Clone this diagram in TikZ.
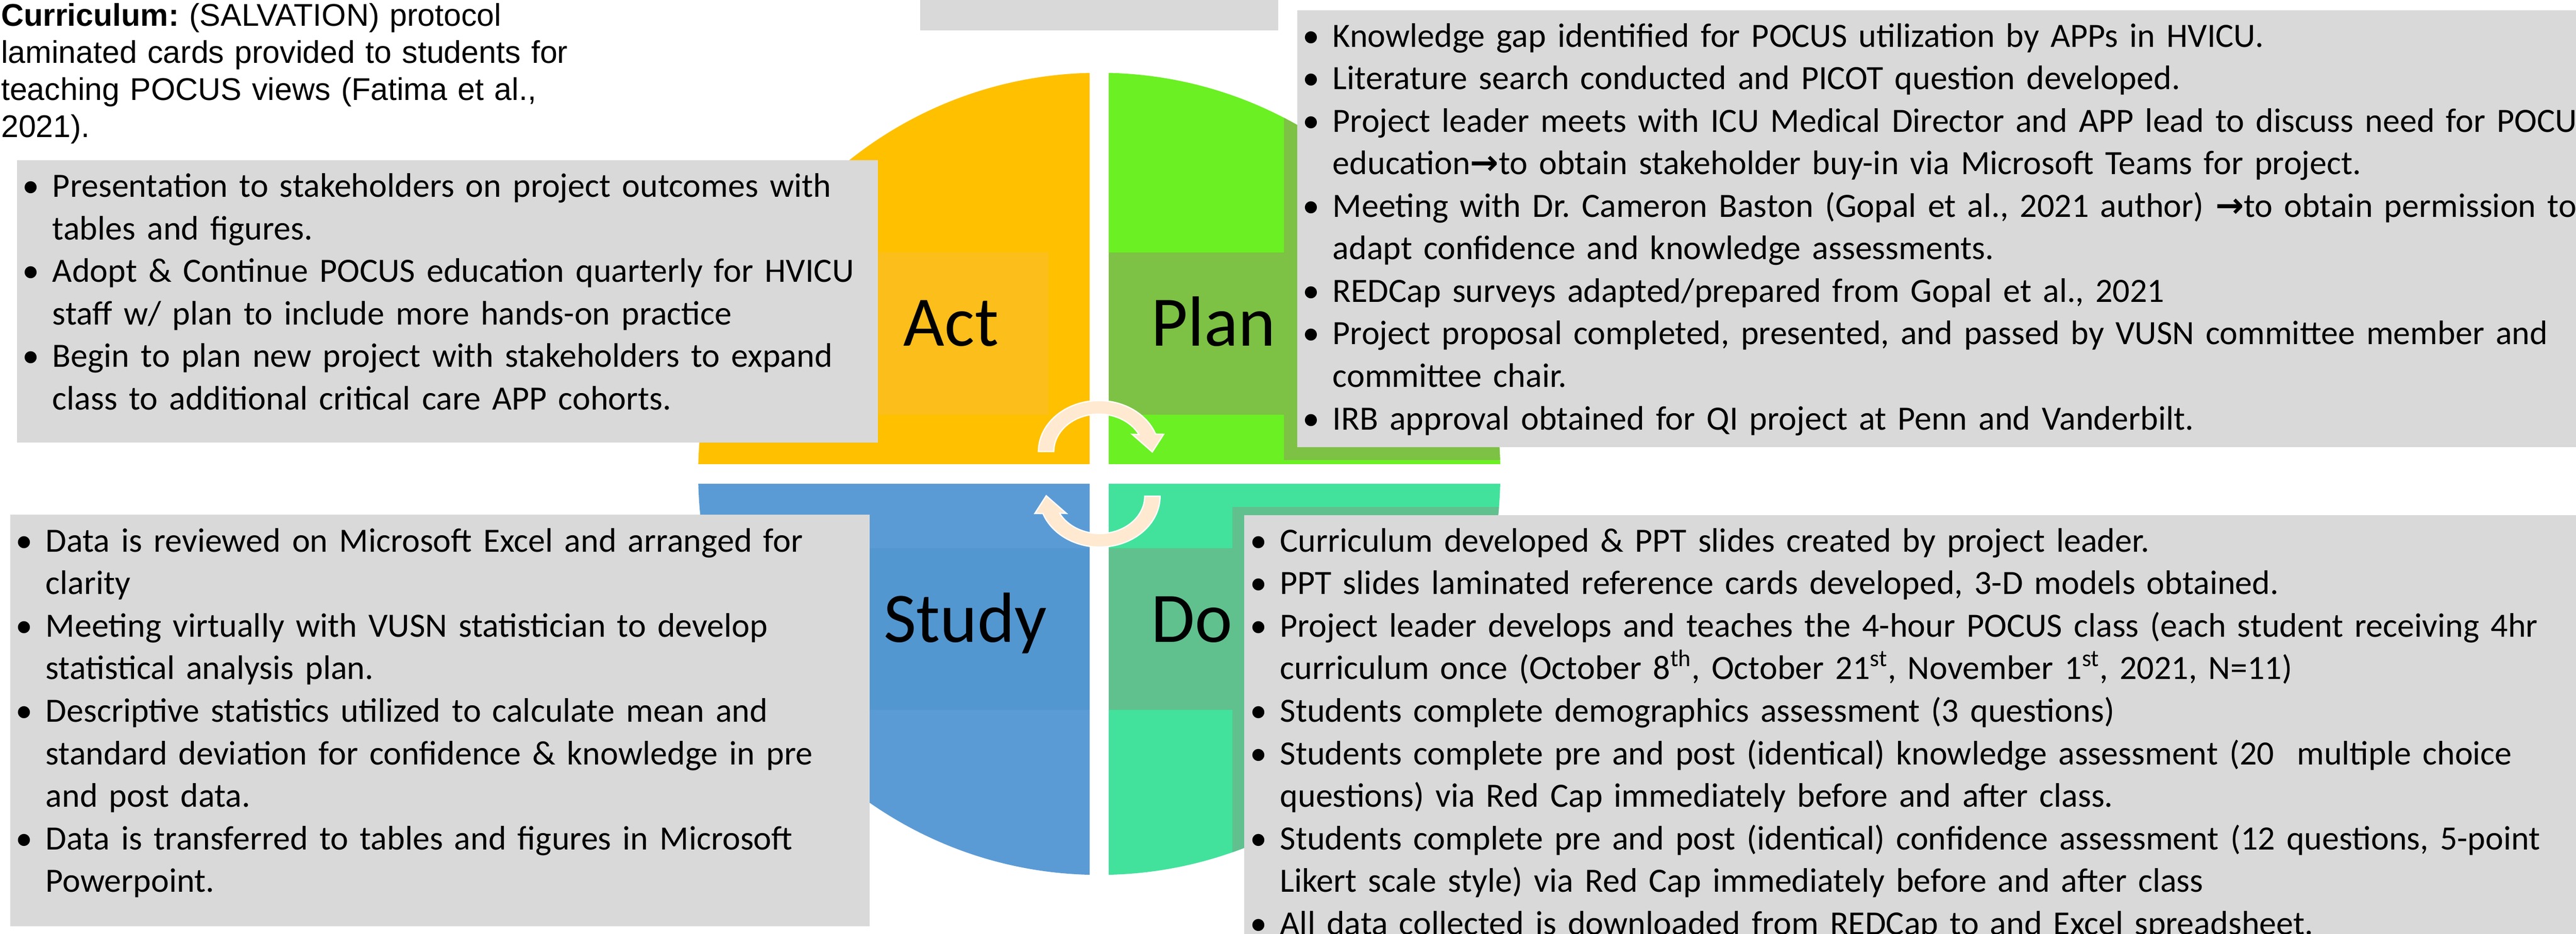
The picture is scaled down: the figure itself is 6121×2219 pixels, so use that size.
\documentclass[tikz,border=0pt]{standalone}
\usepackage{fontspec}
\setmainfont{Carlito}
\newfontfamily\arialfont{Liberation Sans}
\newfontfamily\symfont{DejaVu Sans}
\usepackage{tikz}
\usetikzlibrary{positioning}
\definecolor{actorange}{HTML}{FFC000}
\definecolor{plangreen}{HTML}{6AF023}
\definecolor{studyblue}{HTML}{5B9BD5}
\definecolor{doteal}{HTML}{42E29C}
\definecolor{actshade}{HTML}{FBBE1B}
\definecolor{planshade}{HTML}{7DC244}
\definecolor{studyshade}{HTML}{5397D1}
\definecolor{doshade}{HTML}{60C18F}
\definecolor{boxgray}{HTML}{D9D9D9}
\definecolor{arrowcream}{HTML}{FFE9D0}
\newcommand\itm{\makebox[0.71cm][l]{\textbullet}}
\newcommand\cnt{\hspace*{0.71cm}}
\newcommand\rarr{{\symfont\bfseries →}}
\frenchspacing

\begin{document}
\begin{tikzpicture}
  [x=0.01cm, y=-0.01cm,
   phase/.style={anchor=base, font=\fontsize{48pt}{57.6pt}\selectfont},
   notes/.style={anchor=north west, inner sep=0pt, text width=40cm, align=left,
     font=\fontsize{23pt}{28.74pt}\selectfont},
   cyclearrow/.style={fill=arrowcream, draw=white, line width=0.03cm}]
  \useasboundingbox[fill=white] (0,0) rectangle (6121,2219);
  \begin{scope}
    \clip (2612,1126) circle (953);
    \fill[actorange] (1600,150) rectangle (2589,1103);
    \fill[plangreen] (2635,150) rectangle (3600,1103);
    \fill[studyblue] (1600,1149) rectangle (2589,2100);
    \fill[doteal] (2635,1149) rectangle (3600,2100);
    \fill[actshade] (1900,600) rectangle (2491,985);
    \fill[planshade] (2635,600) rectangle (3100,985);
    \fill[planshade] (3051,0) rectangle (6121,1093);
    \fill[studyshade] (1900,1303) rectangle (2589,1687);
    \fill[doshade] (2635,1303) rectangle (3100,1687);
    \fill[doshade] (2928,1205) rectangle (6121,2219);
  \end{scope}
  \foreach \rot in {0,180}
    \draw[cyclearrow, rotate around={\rot:(2612,1126)}] (2467.5,1073)
      arc[start angle=180, end angle=340, x radius=143.5, y radius=121]
      -- (2765,1032) -- (2738,1074) -- (2690,1032) -- (2706.3,1032.6)
      arc[start angle=333, end angle=180, x radius=107, y radius=89] -- cycle;
  \fill[boxgray] (2187,0) rectangle (3037,72);
  \fill[boxgray] (40,381) rectangle (2086,1052);
  \fill[boxgray] (3082,24) rectangle (6121,1062);
  \fill[boxgray] (24,1223) rectangle (2066,2201);
  \fill[boxgray] (2957,1224) rectangle (6121,2219);
  \node[anchor=north west, inner sep=0pt, text width=14cm, align=left,
    font=\arialfont\fontsize{21.2pt}{25pt}\selectfont] (curriculum) at (2,0)
    {\strut\textbf{Curriculum:} (SALVATION) protocol\\
     laminated cards provided to students for\\
     teaching POCUS views (Fatima et al.,\\
     2021).};
  \node[notes] (actnotes) at (53,397)
    {\strut\itm Presentation to stakeholders on project outcomes with\\
     \cnt tables and figures.\\
     \itm Adopt \& Continue POCUS education quarterly for HVICU\\
     \cnt staff w/ plan to include more hands-on practice\\
     \itm Begin to plan new project with stakeholders to expand\\
     \cnt class to additional critical care APP cohorts.};
  \node[notes] (plannotes) at (3095,40)
    {\strut\itm Knowledge gap identified for POCUS utilization by APPs in HVICU.\\
     \itm Literature search conducted and PICOT question developed.\\
     \itm Project leader meets with ICU Medical Director and APP lead to discuss need for POCUS\\
     \cnt education\rarr to obtain stakeholder buy-in via Microsoft Teams for project.\\
     \itm Meeting with Dr. Cameron Baston (Gopal et al., 2021 author) \rarr to obtain permission to\\
     \cnt adapt confidence and knowledge assessments.\\
     \itm REDCap surveys adapted/prepared from Gopal et al., 2021\\
     \itm Project proposal completed, presented, and passed by VUSN committee member and\\
     \cnt committee chair.\\
     \itm IRB approval obtained for QI project at Penn and Vanderbilt.};
  \node[notes] (studynotes) at (37,1240)
    {\strut\itm Data is reviewed on Microsoft Excel and arranged for\\
     \cnt clarity\\
     \itm Meeting virtually with VUSN statistician to develop\\
     \cnt statistical analysis plan.\\
     \itm Descriptive statistics utilized to calculate mean and\\
     \cnt standard deviation for confidence \& knowledge in pre\\
     \cnt and post data.\\
     \itm Data is transferred to tables and figures in Microsoft\\
     \cnt Powerpoint.};
  \node[notes] (donotes) at (2970,1240)
    {\strut\itm Curriculum developed \& PPT slides created by project leader.\\
     \itm PPT slides laminated reference cards developed, 3-D models obtained.\\
     \itm Project leader develops and teaches the 4-hour POCUS class (each student receiving 4hr\\
     \cnt curriculum once (October 8\textsuperscript{th}, October 21\textsuperscript{st}, November 1\textsuperscript{st}, 2021, N=11)\\
     \itm Students complete demographics assessment (3 questions)\\
     \itm Students complete pre and post (identical) knowledge assessment (20~ multiple choice\\
     \cnt questions) via Red Cap immediately before and after class.\\
     \itm Students complete pre and post (identical) confidence assessment (12 questions, 5-point\\
     \cnt Likert scale style) via Red Cap immediately before and after class\\
     \itm All data collected is downloaded from REDCap to and Excel spreadsheet.};
  \node[phase] (act) at (2260,822) {Act};
  \node[phase] (plan) at (2883,822) {Plan};
  \node[phase] (study) at (2294,1526) {Study};
  \node[phase] (do) at (2832,1526) {Do};
\end{tikzpicture}
\end{document}
